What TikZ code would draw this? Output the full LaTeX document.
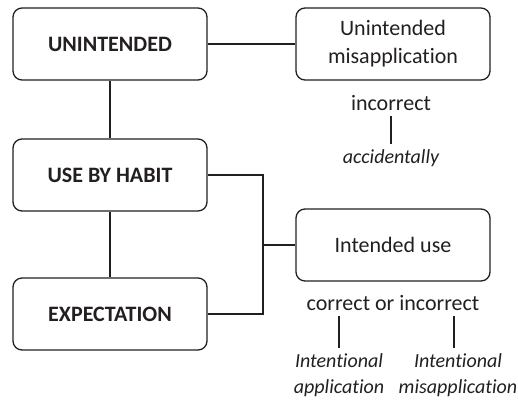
\documentclass[tikz,border=0pt]{standalone}
\usepackage{fontspec}
\setmainfont{Carlito}[Ligatures={NoCommon}]
\definecolor{ink}{HTML}{231F20}
\begin{document}
\begin{tikzpicture}[x=1pt,y=-1pt,
  every node/.style={text=ink, font=\fontsize{22}{28}\selectfont},
  box/.style={draw=ink, line width=1.3pt, rounded corners=9pt,
    minimum width=194pt, minimum height=72pt, align=center, inner sep=0pt},
  headbox/.style={box, font=\fontsize{22}{26}\selectfont\bfseries},
  link/.style={draw=ink, line width=1.1pt},
  note/.style={inner sep=0pt, align=center},
  case/.style={note, font=\fontsize{20}{26}\selectfont\itshape}]
\useasboundingbox (0,0) rectangle (518,399);

% left column of categories
\node[headbox] (un)  at (110,44)  {UNINTENDED};
\node[headbox] (hab) at (110,175) {USE BY HABIT};
\node[headbox] (exp) at (110,314) {EXPECTATION};

% right column of outcomes
\node[box] (um) at (393,44)  {Unintended\\misapplication};
\node[box] (iu) at (393,245) {Intended use};

% notes under the outcomes
\node[note] (inc) at (391,103) {incorrect};
\node[case] (acc) at (391,158) {accidentally};
\node[note] (cor) at (393,303) {correct or incorrect};
\node[case] (ia) at (339,375) {Intentional\\application};
\node[case] (im) at (458,375) {Intentional\\misapplication};

\coordinate (j) at (263,245);

% connectors
\draw[link] (un) -- (um);
\draw[link] (un) -- (hab);
\draw[link] (hab) -- (exp);
\draw[link] (hab.east) -- (hab.east -| j) -- (exp.east -| j) -- (exp.east);
\draw[link] (j) -- (iu.west);
\draw[link] ([yshift=-5pt]inc.south) -- ([yshift=5pt]acc.north);
\draw[link] ([yshift=-5pt]ia.north |- cor.south) -- ([yshift=5pt]ia.north);
\draw[link] ([xshift=-4pt,yshift=-5pt]im.north |- cor.south) -- ([xshift=-4pt,yshift=5pt]im.north);
\end{tikzpicture}
\end{document}
